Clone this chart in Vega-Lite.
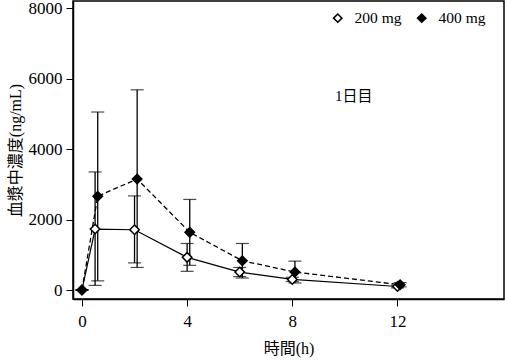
{
  "$schema": "https://vega.github.io/schema/vega-lite/v6.json",
  "width": 431,
  "height": 298,
  "autosize": {"type": "none"},
  "padding": {"left": 73, "top": 1, "right": 1, "bottom": 61},
  "background": "white",
  "config": {
    "view": {"stroke": "black", "strokeWidth": 1.5},
    "font": "Liberation Serif, Noto Sans CJK JP",
    "axis": {
      "grid": false,
      "domainColor": "black",
      "domainWidth": 1.5,
      "tickColor": "black",
      "tickSize": 7,
      "labelFont": "Liberation Serif",
      "labelFontSize": 17,
      "labelColor": "black",
      "titleFont": "Liberation Serif, Noto Sans CJK JP",
      "titleFontSize": 16,
      "titleFontWeight": "normal",
      "titleColor": "black"
    }
  },
  "datasets": {
    "pk": [
      {"dose": "200 mg", "t": 0, "mean": 0, "lo": 0, "hi": 0},
      {"dose": "200 mg", "t": 0.5, "mean": 1730, "lo": 130, "hi": 3350},
      {"dose": "200 mg", "t": 2, "mean": 1710, "lo": 770, "hi": 2670},
      {"dose": "200 mg", "t": 4, "mean": 927, "lo": 530, "hi": 1320},
      {"dose": "200 mg", "t": 6, "mean": 510, "lo": 380, "hi": 640},
      {"dose": "200 mg", "t": 8, "mean": 300, "lo": 240, "hi": 360},
      {"dose": "200 mg", "t": 12, "mean": 100, "lo": 60, "hi": 140},
      {"dose": "400 mg", "t": 0, "mean": 0, "lo": 0, "hi": 0},
      {"dose": "400 mg", "t": 0.6, "mean": 2660, "lo": 260, "hi": 5050},
      {"dose": "400 mg", "t": 2.1, "mean": 3150, "lo": 640, "hi": 5680},
      {"dose": "400 mg", "t": 4.1, "mean": 1636, "lo": 700, "hi": 2570},
      {"dose": "400 mg", "t": 6.1, "mean": 830, "lo": 340, "hi": 1320},
      {"dose": "400 mg", "t": 8.1, "mean": 510, "lo": 200, "hi": 820},
      {"dose": "400 mg", "t": 12.1, "mean": 150, "lo": 90, "hi": 210}
    ],
    "label": [{"t": 9.62, "y": 5500, "text": "1日目"}]
  },
  "layer": [
    {
      "data": {"name": "pk"},
      "mark": {"type": "rule", "color": "black", "strokeWidth": 1.3},
      "encoding": {
        "x": {"field": "t", "type": "quantitative", "scale": {"domain": [-0.34, 16.05], "nice": false, "zero": false},
          "axis": {"values": [0, 4, 8, 12], "format": "d", "title": "時間(h)", "titlePadding": 11, "labelPadding": 7}},
        "y": {"field": "lo", "type": "quantitative", "scale": {"domain": [-255, 8200], "nice": false, "zero": false},
          "axis": {"values": [0, 2000, 4000, 6000, 8000], "format": "d", "title": "血漿中濃度(ng/mL)", "titlePadding": 5, "labelPadding": 4}},
        "y2": {"field": "hi"}
      }
    },
    {
      "data": {"name": "pk"},
      "mark": {"type": "tick", "orient": "horizontal", "color": "black", "size": 13, "thickness": 1.2},
      "encoding": {
        "x": {"field": "t", "type": "quantitative"},
        "y": {"field": "lo", "type": "quantitative"}
      }
    },
    {
      "data": {"name": "pk"},
      "mark": {"type": "tick", "orient": "horizontal", "color": "black", "size": 13, "thickness": 1.2},
      "encoding": {
        "x": {"field": "t", "type": "quantitative"},
        "y": {"field": "hi", "type": "quantitative"}
      }
    },
    {
      "data": {"name": "pk"},
      "transform": [{"filter": "datum.dose === '200 mg'"}],
      "mark": {"type": "line", "color": "black", "strokeWidth": 1.2},
      "encoding": {
        "x": {"field": "t", "type": "quantitative"},
        "y": {"field": "mean", "type": "quantitative"}
      }
    },
    {
      "data": {"name": "pk"},
      "transform": [{"filter": "datum.dose === '400 mg'"}],
      "mark": {"type": "line", "color": "black", "strokeWidth": 1.3, "strokeDash": [5, 3]},
      "encoding": {
        "x": {"field": "t", "type": "quantitative"},
        "y": {"field": "mean", "type": "quantitative"}
      }
    },
    {
      "data": {"name": "pk"},
      "mark": {"type": "point", "shape": "diamond", "filled": true, "stroke": "black", "strokeWidth": 1.5, "size": 90, "opacity": 1},
      "encoding": {
        "x": {"field": "t", "type": "quantitative"},
        "y": {"field": "mean", "type": "quantitative"},
        "fill": {"field": "dose", "type": "nominal", "scale": {"domain": ["200 mg", "400 mg"], "range": ["white", "black"]},
          "legend": {"title": null, "orient": "none", "legendX": 257, "legendY": 9, "direction": "horizontal",
            "labelFont": "Liberation Serif", "labelFontSize": 15.5, "labelColor": "black",
            "symbolType": "diamond", "symbolSize": 70, "symbolStrokeColor": "black", "symbolStrokeWidth": 1.5,
            "columnPadding": 12, "labelOffset": 9}}
      }
    },
    {
      "data": {"name": "label"},
      "mark": {"type": "text", "font": "Liberation Serif, Noto Sans CJK JP", "fontSize": 15, "fill": "black", "align": "left", "baseline": "middle"},
      "encoding": {
        "x": {"field": "t", "type": "quantitative"},
        "y": {"field": "y", "type": "quantitative"},
        "text": {"field": "text"}
      }
    }
  ]
}
